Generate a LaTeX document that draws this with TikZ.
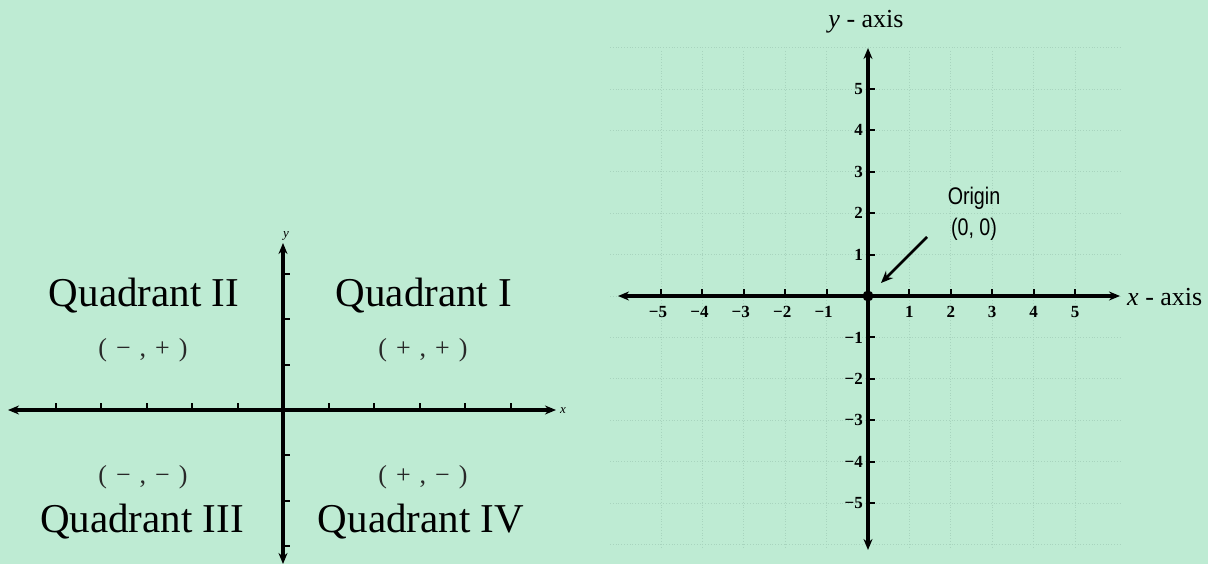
\documentclass[tikz,border=0pt]{standalone}
\usepackage{fontspec}
\setmainfont{Liberation Serif}
\newfontfamily\narrowsans[FakeStretch=0.82]{Liberation Sans}
\usetikzlibrary{arrows.meta,calc}
\definecolor{bg}{RGB}{190,235,211}
\definecolor{gridc}{RGB}{168,212,190}
\definecolor{signc}{RGB}{40,40,40}
\newcommand{\sgap}{\hspace{9pt}}
\begin{document}
\begin{tikzpicture}[x=1pt,y=-1pt,
  axis/.style={line width=3.2pt,{Stealth[length=11pt,width=9pt]}-{Stealth[length=11pt,width=9pt]}},
  tickmark/.style={line width=2pt},
  quad/.style={font=\fontsize{41}{48}\selectfont,inner sep=0pt},
  sign/.style={font=\fontsize{26}{30}\selectfont,text=signc,inner sep=0pt},
  num/.style={font=\bfseries\fontsize{17}{19}\selectfont,inner sep=0pt},
  axlabel/.style={font=\fontsize{26}{30}\selectfont,inner sep=0pt},
  gridline/.style={gridc,line width=0.8pt,dotted}]
\fill[bg] (0,0) rectangle (1208,564);
\useasboundingbox (0,0) rectangle (1208,564);

% ---------- left diagram ----------
\coordinate (LO) at (283,410);
\coordinate (LxL) at (8,410);
\coordinate (LxR) at (556,410);
\coordinate (LyT) at (283,243);
\coordinate (LyB) at (283,564);
\draw[axis] (LxL) -- (LxR);
\draw[axis] (LyT) -- (LyB);
\foreach \i in {-5,...,-1,1,2,...,5}
  \draw[tickmark] ($(LO)+(\i*45.5,0)$) -- ++(0,-7);
\foreach \i in {-3,...,-1,1,2,3}
  \draw[tickmark] ($(LO)+(0,\i*45.4)$) -- ++(7,0);
\node[font=\itshape\fontsize{13}{15}\selectfont,inner sep=0pt] (lxlab) at (563,411) {x};
\node[font=\itshape\fontsize{13}{15}\selectfont,inner sep=0pt] (lylab) at (286,236) {y};

\node[quad] (q2) at (144,296) {Quadrant II};
\node[quad] (q1) at (424,296) {Quadrant I};
\node[quad] (q3) at (142,522) {Quadrant III};
\node[quad] (q4) at (421,522) {Quadrant IV};
\node[sign] (s2) at (143,350) {(\sgap−\sgap,\sgap+\sgap)};
\node[sign] (s1) at (423,350) {(\sgap+\sgap,\sgap+\sgap)};
\node[sign] (s3) at (143,477) {(\sgap−\sgap,\sgap−\sgap)};
\node[sign] (s4) at (423,477) {(\sgap+\sgap,\sgap−\sgap)};

% ---------- right diagram ----------
\coordinate (RO) at (868,296);
% faint grid
\foreach \i in {-5,...,5}
  \draw[gridline] ($(RO)+(\i*41.4,-245)$) -- ($(RO)+(\i*41.4,252)$);
\foreach \i in {-6,...,6}
  \draw[gridline] ($(RO)+(-258,\i*41.4)$) -- ($(RO)+(252,\i*41.4)$);

\coordinate (RxL) at (618,296);
\coordinate (RxR) at (1120,296);
\coordinate (RyT) at (868,48);
\coordinate (RyB) at (868,550);
\draw[axis] (RxL) -- (RxR);
\draw[axis] (RyT) -- (RyB);
\foreach \i in {1,...,5}{
  \draw[tickmark] ($(RO)+(-\i*41.4,0)$) -- ++(0,-7);
  \node[num] at ($(RO)+(-\i*41.4-3,16)$) {−\i};
  \draw[tickmark] ($(RO)+(\i*41.4,0)$) -- ++(0,-7);
  \node[num] at ($(RO)+(\i*41.4,16)$) {\i};
  \draw[tickmark] ($(RO)+(0,-\i*41.4)$) -- ++(7,0);
  \node[num,anchor=east] at ($(RO)+(-5,-\i*41.4)$) {\i};
  \draw[tickmark] ($(RO)+(0,\i*41.4)$) -- ++(7,0);
  \node[num,anchor=east] at ($(RO)+(-5,\i*41.4)$) {−\i};
}
\fill (RO) circle (5.5pt);

\node[axlabel] (ylab) at (866,22) {\textit{y} - axis};
\node[axlabel,anchor=west] (xlab) at (1127,297) {\textit{x} - axis};

\node[font=\narrowsans\fontsize{24}{28}\selectfont,inner sep=0pt] (orig) at (974,198) {Origin};
\node[font=\narrowsans\fontsize{24}{28}\selectfont,inner sep=0pt] (origc) at (974,229) {(0, 0)};
\coordinate (arS) at (927,237);
\coordinate (arE) at (881,283);
\draw[line width=2.6pt,-{Stealth[length=12pt,width=10pt]}] (arS) -- (arE);
\end{tikzpicture}
\end{document}
